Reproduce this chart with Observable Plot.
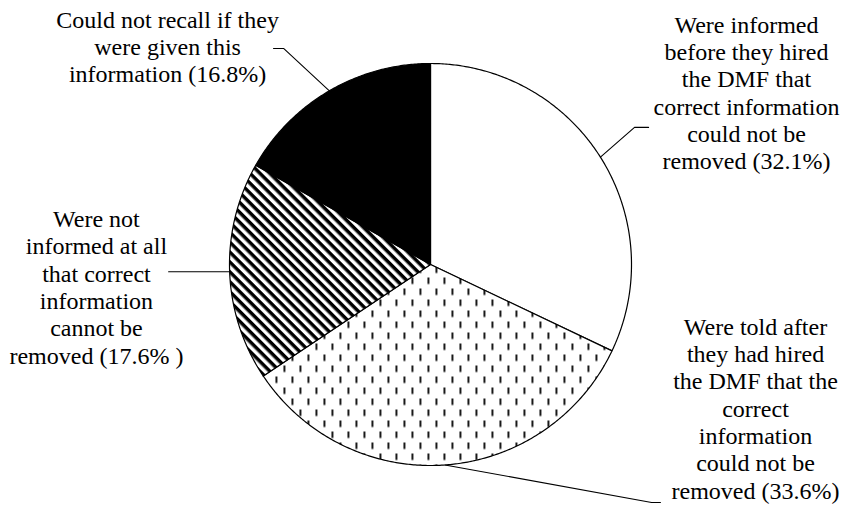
<!DOCTYPE html>
<html>
<head>
<meta charset="utf-8">
<script src="https://cdn.jsdelivr.net/npm/d3@7"></script>
<script src="https://cdn.jsdelivr.net/npm/@observablehq/plot@0.6"></script>
<style>
  html, body { margin: 0; padding: 0; background: #fff; }
  #chart { width: 844px; height: 505px; }
  #chart svg text, #chart svg tspan { font-family: "Liberation Serif", "Times New Roman", "DejaVu Serif", serif !important; }
</style>
</head>
<body>
<div id="chart"></div>
<script>
// ---- data ----
const categories = [
  "Were informed before they hired the DMF that correct information could not be removed",
  "Were told after they had hired the DMF that the correct information could not be removed",
  "Were not informed at all that correct information cannot be removed",
  "Could not recall if they were given this information"
];
const values = [32.1, 33.6, 17.6, 16.8];
const labelTexts = [
  "Were informed\nbefore they hired\nthe DMF that\ncorrect information\ncould not be\nremoved (32.1%)",
  "Were told after\nthey had hired\nthe DMF that the\ncorrect\ninformation\ncould not be\nremoved (33.6%)",
  "Were not\ninformed at all\nthat correct\ninformation\ncannot be\nremoved (17.6% )",
  "Could not recall if they\nwere given this\ninformation (16.8%)"
];
const fills = ["white", "url(#dashes)", "url(#stripes)", "black"];

// ---- layout (data units of the unit-circle plot) ----
const labelPos = [[1.572, 0.857], [1.617, -0.713], [-1.662, -0.110], [-1.308, 1.086]];
const leaderRoutes = [
  [[1.015, 0.682], [1.085, 0.682]],
  [[1.100, -1.184], [1.144, -1.184]],
  [[-1.303, null]],
  [[-0.731, 1.075], [-0.781, 1.075]]
];

// ---- derived geometry ----
const total = d3.sum(values);
let acc = 0;
const slices = values.map((v, i) => {
  const a0 = acc / total * 2 * Math.PI;
  acc += v;
  const a1 = acc / total * 2 * Math.PI;
  return {i, key: categories[i], a0, a1, mid: (a0 + a1) / 2, fill: fills[i]};
});
const polyPoints = [];
for (const s of slices) {
  polyPoints.push({key: s.key, fill: s.fill, x: 0, y: 0});
  const n = Math.max(2, Math.ceil((s.a1 - s.a0) / (Math.PI / 360)));
  for (let k = 0; k <= n; k++) {
    const a = s.a0 + (s.a1 - s.a0) * k / n;
    polyPoints.push({key: s.key, fill: s.fill, x: Math.sin(a), y: Math.cos(a)});
  }
}
const leaderPoints = [];
slices.forEach((s, i) => {
  const sx = Math.sin(s.mid), sy = Math.cos(s.mid);
  leaderPoints.push({key: s.key, x: sx, y: sy});
  for (const [px, py] of leaderRoutes[i]) leaderPoints.push({key: s.key, x: px, y: py == null ? sy : py});
});
const labels = slices.map((s, i) => ({text: labelTexts[i], x: labelPos[i][0], y: labelPos[i][1]}));

function patternDefs() {
  const defs = d3.create("svg:defs");
  const st = defs.append("pattern").attr("id", "stripes").attr("patternUnits", "userSpaceOnUse")
    .attr("width", 7).attr("height", 7).attr("patternTransform", "rotate(45)");
  st.append("rect").attr("width", 7).attr("height", 7).attr("fill", "white");
  st.append("rect").attr("width", 7).attr("height", 3.5).attr("fill", "black");
  const da = defs.append("pattern").attr("id", "dashes").attr("patternUnits", "userSpaceOnUse")
    .attr("width", 16).attr("height", 22);
  da.append("rect").attr("width", 16).attr("height", 22).attr("fill", "white");
  da.append("rect").attr("x", 3).attr("y", 2).attr("width", 1.8).attr("height", 6.5).attr("fill", "black");
  da.append("rect").attr("x", 11).attr("y", 13).attr("width", 1.8).attr("height", 6.5).attr("fill", "black");
  return defs.node();
}

const serif = "'Liberation Serif', 'Times New Roman', 'DejaVu Serif', serif";
const chart = Plot.plot({
  width: 844,
  height: 505,
  marginLeft: 229,
  marginRight: 213,
  marginTop: 63,
  marginBottom: 40,
  x: {domain: [-1, 1], axis: null},
  y: {domain: [-1, 1], axis: null},
  color: {type: "identity"},
  style: {background: "white"},
  marks: [
    patternDefs,
    Plot.line(polyPoints, {x: "x", y: "y", z: "key", fill: "fill", stroke: "black", strokeWidth: 1.2, curve: "linear-closed"}),
    Plot.line(leaderPoints, {x: "x", y: "y", z: "key", stroke: "black", strokeWidth: 1.1}),
    Plot.text(labels, {x: "x", y: "y", text: "text", textAnchor: "middle", lineAnchor: "middle", lineHeight: 1.14, fontSize: 24, fontFamily: serif, fill: "black"})
  ]
});
d3.select(chart).selectAll("text, tspan").style("font-family", serif);
document.getElementById("chart").appendChild(chart);
</script>
</body>
</html>
